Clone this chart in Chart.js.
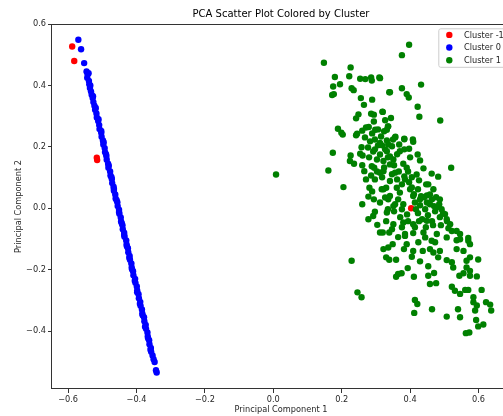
<!DOCTYPE html>
<html>
<head>
<meta charset="utf-8">
<script src="https://cdn.jsdelivr.net/npm/chart.js@4.4.0/dist/chart.umd.min.js"></script>
<style>
  html, body { margin: 0; padding: 0; background: #fff; overflow: hidden; }
  #wrap { width: 503px; height: 416px; overflow: hidden; }
</style>
</head>
<body>
<div id="wrap"><canvas id="plot" width="520" height="416"></canvas></div>
<script>
// axis ranges
const xRange = [-0.647, 0.692];
const yRange = [-0.589, 0.6005];
const tickStep = 0.2;

const clusterLabels = ['Cluster -1', 'Cluster 0', 'Cluster 1'];
const clusterColors = ['#ff0000', '#0000ff', '#008000'];

// Cluster -1 (noise)
const clusterNeg1 = [
    [-0.588, 0.527], [-0.582, 0.480], [-0.516, 0.165], [-0.515, 0.157], [0.403, 0.000]
];

// Cluster 0 - the thin diagonal band on the left
const cluster0 = [
    [-0.570, 0.549], [-0.562, 0.518], [-0.553, 0.473],
    [-0.546, 0.446], [-0.543, 0.436], [-0.544, 0.425], [-0.539, 0.415], [-0.538, 0.404], [-0.536, 0.392],
    [-0.533, 0.381], [-0.531, 0.370], [-0.528, 0.359], [-0.526, 0.346], [-0.523, 0.334], [-0.521, 0.321],
    [-0.517, 0.309], [-0.516, 0.296], [-0.512, 0.284], [-0.509, 0.271], [-0.508, 0.258], [-0.503, 0.246],
    [-0.502, 0.233], [-0.498, 0.221], [-0.497, 0.208], [-0.493, 0.196], [-0.492, 0.183], [-0.488, 0.170],
    [-0.487, 0.158], [-0.483, 0.145], [-0.482, 0.132], [-0.477, 0.120], [-0.476, 0.107], [-0.472, 0.095],
    [-0.471, 0.082], [-0.467, 0.070], [-0.466, 0.057], [-0.462, 0.045], [-0.461, 0.032], [-0.456, 0.020],
    [-0.455, 0.007], [-0.451, -0.005], [-0.450, -0.018], [-0.446, -0.030], [-0.445, -0.043], [-0.441, -0.055],
    [-0.440, -0.068], [-0.436, -0.080], [-0.435, -0.093], [-0.430, -0.105], [-0.429, -0.118], [-0.425, -0.130],
    [-0.424, -0.143], [-0.420, -0.155], [-0.419, -0.168], [-0.415, -0.180], [-0.414, -0.193], [-0.410, -0.205],
    [-0.409, -0.218], [-0.404, -0.230], [-0.403, -0.243], [-0.399, -0.255], [-0.398, -0.268], [-0.394, -0.280],
    [-0.393, -0.293], [-0.389, -0.305], [-0.388, -0.318], [-0.384, -0.330], [-0.383, -0.343], [-0.378, -0.355],
    [-0.377, -0.368], [-0.373, -0.380], [-0.372, -0.393], [-0.368, -0.405], [-0.367, -0.418], [-0.363, -0.430],
    [-0.362, -0.443], [-0.358, -0.455], [-0.357, -0.468], [-0.353, -0.480], [-0.350, -0.492], [-0.347, -0.501],
    [-0.343, -0.528], [-0.341, -0.535],
    [-0.540, 0.440], [-0.535, 0.400], [-0.527, 0.365], [-0.519, 0.327], [-0.511, 0.290], [-0.503, 0.252],
    [-0.496, 0.215], [-0.489, 0.176], [-0.481, 0.139], [-0.473, 0.101], [-0.466, 0.063], [-0.458, 0.026],
    [-0.451, -0.012], [-0.443, -0.049], [-0.436, -0.087], [-0.428, -0.124], [-0.421, -0.161], [-0.413, -0.199],
    [-0.405, -0.236], [-0.398, -0.274], [-0.390, -0.311], [-0.382, -0.349], [-0.375, -0.386], [-0.366, -0.424],
    [-0.359, -0.461]
];

// Cluster 1 - the wide cloud on the right
const cluster1 = [
    [0.008, 0.110],
    [0.148, 0.474], [0.226, 0.459], [0.180, 0.428], [0.222, 0.430], [0.254, 0.422], [0.269, 0.421],
    [0.286, 0.426], [0.288, 0.416], [0.310, 0.426], [0.195, 0.404], [0.175, 0.397], [0.229, 0.391],
    [0.235, 0.385], [0.172, 0.369], [0.177, 0.372], [0.256, 0.359], [0.289, 0.354], [0.265, 0.337],
    [0.339, 0.378], [0.249, 0.306], [0.242, 0.293], [0.286, 0.308], [0.294, 0.305], [0.319, 0.315],
    [0.294, 0.283], [0.327, 0.287], [0.189, 0.259], [0.199, 0.246], [0.245, 0.243], [0.260, 0.253],
    [0.279, 0.265], [0.298, 0.256], [0.335, 0.267],
    [0.397, 0.533], [0.376, 0.499], [0.312, 0.424], [0.341, 0.378], [0.376, 0.391], [0.390, 0.372],
    [0.396, 0.361], [0.432, 0.403], [0.422, 0.331], [0.427, 0.298], [0.488, 0.286], [0.320, 0.314],
    [0.344, 0.294], [0.336, 0.267], [0.332, 0.256], [0.324, 0.251], [0.357, 0.233], [0.383, 0.227],
    [0.408, 0.224],
    [0.174, 0.181], [0.161, 0.123], [0.205, 0.069], [0.226, 0.172], [0.224, 0.154], [0.236, 0.145],
    [0.258, 0.199], [0.254, 0.178], [0.261, 0.172], [0.266, 0.121], [0.281, 0.067], [0.278, 0.038],
    [0.312, 0.019], [0.297, -0.011], [0.292, -0.025], [0.278, -0.036], [0.304, -0.054], [0.320, -0.079],
    [0.332, -0.014], [0.317, 0.062], [0.330, 0.067], [0.288, 0.137], [0.295, 0.132], [0.322, 0.121],
    [0.203, 0.240], [0.242, 0.238],
    [0.268, 0.231], [0.283, 0.218], [0.277, 0.198], [0.297, 0.224], [0.306, 0.205], [0.292, 0.185],
    [0.312, 0.175], [0.327, 0.192], [0.335, 0.166], [0.303, 0.159], [0.280, 0.166], [0.341, 0.143],
    [0.318, 0.101],
    [0.356, 0.231], [0.383, 0.225], [0.409, 0.217], [0.397, 0.194], [0.422, 0.175], [0.429, 0.156],
    [0.439, 0.130], [0.520, 0.132], [0.463, 0.113], [0.482, 0.103], [0.453, 0.078], [0.468, 0.062],
    [0.487, 0.029], [0.485, 0.013], [0.492, -0.003], [0.502, -0.019], [0.507, -0.036], [0.517, -0.052],
    [0.512, -0.065], [0.522, -0.074], [0.536, -0.074], [0.546, -0.084], [0.570, -0.097], [0.312, -0.079],
    [0.339, -0.079], [0.385, -0.084], [0.409, -0.081], [0.439, -0.079], [0.478, -0.084], [0.351, -0.052],
    [0.380, -0.046], [0.409, -0.052], [0.449, -0.041], [0.335, -0.003], [0.351, 0.007], [0.380, 0.013],
    [0.327, 0.035], [0.341, 0.040], [0.370, 0.051], [0.409, 0.040], [0.322, 0.062], [0.361, 0.067],
    [0.400, 0.062], [0.341, 0.089], [0.385, 0.094], [0.419, 0.110], [0.312, 0.116], [0.356, 0.116],
    [0.390, 0.132], [0.322, 0.154], [0.351, 0.159], [0.380, 0.145], [0.332, 0.186], [0.370, 0.186],
    [0.312, 0.213], [0.336, 0.208],
    [0.414, 0.019], [0.429, 0.010], [0.444, -0.003], [0.458, 0.013], [0.423, -0.016], [0.452, -0.023],
    [0.473, -0.010], [0.435, -0.036], [0.464, -0.042], [0.487, -0.029], [0.417, -0.003], [0.441, 0.036],
    [0.458, 0.045], [0.423, 0.062],
    [0.271, 0.263], [0.289, 0.244], [0.306, 0.257], [0.315, 0.234], [0.332, 0.221], [0.347, 0.202],
    [0.362, 0.176], [0.353, 0.140], [0.367, 0.120], [0.383, 0.104], [0.397, 0.085], [0.405, 0.068],
    [0.426, 0.091], [0.447, 0.078], [0.432, 0.039], [0.449, 0.019], [0.470, 0.007], [0.476, 0.036],
    [0.467, -0.055], [0.490, -0.055], [0.365, 0.029], [0.353, -0.010], [0.371, -0.029], [0.391, -0.020],
    [0.376, -0.062], [0.297, 0.094], [0.289, 0.055],
    [0.303, 0.120], [0.324, 0.133], [0.347, 0.111], [0.362, 0.094], [0.376, 0.078], [0.394, 0.120],
    [0.405, 0.101], [0.411, 0.046], [0.429, 0.029], [0.449, 0.042], [0.464, 0.029], [0.478, 0.003],
    [0.496, -0.016], [0.508, -0.042], [0.426, -0.042], [0.446, -0.062], [0.336, 0.029], [0.356, 0.013],
    [0.376, -0.003], [0.394, -0.042], [0.414, -0.062], [0.330, -0.042], [0.347, -0.068], [0.365, -0.094],
    [0.297, 0.192], [0.318, 0.205], [0.350, 0.224], [0.368, 0.208], [0.383, 0.192], [0.400, 0.166],
    [0.341, 0.169], [0.286, 0.107], [0.260, 0.140], [0.271, 0.094], [0.294, 0.029], [0.260, 0.013],
    [0.229, -0.171], [0.246, -0.274], [0.258, -0.290], [0.322, -0.133], [0.336, -0.128], [0.349, -0.117],
    [0.330, -0.160], [0.339, -0.168], [0.359, -0.168], [0.393, -0.195], [0.390, -0.117], [0.382, -0.133],
    [0.409, -0.139], [0.405, -0.158], [0.429, -0.173], [0.437, -0.139], [0.453, -0.189], [0.458, -0.133],
    [0.468, -0.144], [0.482, -0.160], [0.487, -0.139], [0.507, -0.169], [0.522, -0.176], [0.526, -0.193],
    [0.536, -0.133], [0.556, -0.139], [0.565, -0.171], [0.575, -0.160], [0.599, -0.167], [0.365, -0.214],
    [0.359, -0.223], [0.375, -0.212], [0.411, -0.223], [0.453, -0.220], [0.470, -0.211], [0.458, -0.247],
    [0.476, -0.244], [0.544, -0.220], [0.556, -0.212], [0.565, -0.193], [0.575, -0.204], [0.575, -0.220],
    [0.595, -0.222], [0.522, -0.256], [0.531, -0.269], [0.546, -0.279], [0.561, -0.266], [0.570, -0.266],
    [0.609, -0.266], [0.585, -0.290], [0.585, -0.306], [0.595, -0.317], [0.590, -0.333], [0.622, -0.306],
    [0.634, -0.314], [0.637, -0.333], [0.414, -0.299], [0.421, -0.312], [0.412, -0.341], [0.464, -0.329],
    [0.507, -0.353], [0.540, -0.329], [0.546, -0.355], [0.593, -0.364], [0.599, -0.385], [0.614, -0.379],
    [0.563, -0.407], [0.573, -0.405],
    [0.385, -0.090], [0.424, -0.111], [0.444, -0.095], [0.463, -0.106], [0.473, -0.111], [0.507, -0.095],
    [0.536, -0.104], [0.546, -0.101], [0.570, -0.106], [0.575, -0.117]
];

const clusterData = [clusterNeg1, cluster0, cluster1];

function fmtTick(v) {
    return Number(v).toFixed(1).replace('-', '\u2212');
}

// box around the plot (all four spines)
const framePlugin = {
    id: 'frame',
    afterDatasetsDraw(chart) {
        const { ctx, chartArea: a } = chart;
        ctx.save();
        ctx.strokeStyle = '#333333';
        ctx.lineWidth = 1;
        ctx.strokeRect(Math.round(a.left) - 0.5, Math.round(a.top) + 0.5,
            Math.round(a.right - a.left), Math.round(a.bottom - a.top) - 1);
        ctx.restore();
    }
};

// legend drawn inside the plot, upper right
const boxLegend = {
    id: 'boxLegend',
    afterDraw(chart) {
        const { ctx, chartArea: a } = chart;
        const x0 = a.right - 71.7, y0 = a.top + 4.3;
        ctx.save();
        ctx.fillStyle = 'rgba(255,255,255,0.8)';
        ctx.strokeStyle = '#cccccc';
        ctx.lineWidth = 1;
        ctx.beginPath();
        ctx.roundRect(x0 + 0.5, y0 + 0.5, 67.5, 38.5, 2);
        ctx.fill();
        ctx.stroke();
        ctx.font = "8.2px 'DejaVu Sans'";
        ctx.textBaseline = 'middle';
        chart.data.datasets.forEach((ds, i) => {
            const cy = y0 + 6.6 + i * 12.65;
            ctx.fillStyle = ds.backgroundColor;
            ctx.beginPath();
            ctx.arc(x0 + 11, cy, 3.2, 0, Math.PI * 2);
            ctx.fill();
            ctx.fillStyle = '#262626';
            ctx.fillText(ds.label, x0 + 25.7, cy + 0.5);
        });
        ctx.restore();
    }
};

Chart.defaults.font.family = "'DejaVu Sans', sans-serif";

const plot = document.getElementById('plot').getContext('2d');
new Chart(plot, {
    type: 'scatter',
    data: {
        datasets: clusterData.map((pts, i) => ({
            label: clusterLabels[i],
            data: pts.map(p => ({ x: p[0], y: p[1] })),
            backgroundColor: clusterColors[i],
            borderWidth: 0,
            pointRadius: 3.2,
            pointHoverRadius: 3.2,
            order: 3 - i
        }))
    },
    options: {
        responsive: false,
        animation: false,
        layout: { padding: { left: 0, right: 10, top: 0, bottom: 0 } },
        plugins: {
            legend: { display: false },
            tooltip: { enabled: false },
            title: {
                display: true,
                fullSize: false,
                text: 'PCA Scatter Plot Colored by Cluster',
                color: '#000',
                font: { size: 10, weight: 'normal' },
                padding: { top: 8, bottom: 4 }
            }
        },
        scales: {
            x: {
                type: 'linear',
                min: xRange[0],
                max: xRange[1],
                afterFit(s) { s.height = 27; },
                border: { display: false },
                grid: { display: true, drawOnChartArea: false, drawTicks: true, tickLength: 4, color: '#333' },
                ticks: {
                    stepSize: tickStep, includeBounds: false, padding: 2, autoSkip: false, maxRotation: 0,
                    color: '#262626', font: { size: 8.2 }, callback: fmtTick
                },
                title: {
                    display: true, text: 'Principal Component 1', color: '#262626',
                    font: { size: 8.2 }, padding: { top: 0, bottom: 1.5 }
                }
            },
            y: {
                type: 'linear',
                min: yRange[0],
                max: yRange[1],
                afterFit(s) { s.width = 52; },
                border: { display: false },
                grid: { display: true, drawOnChartArea: false, drawTicks: true, tickLength: 4, color: '#333' },
                ticks: {
                    stepSize: tickStep, includeBounds: false, padding: 2, autoSkip: false,
                    color: '#262626', font: { size: 8.2 }, callback: fmtTick
                },
                title: {
                    display: true, text: 'Principal Component 2', color: '#262626',
                    font: { size: 8.2 }, padding: { top: 14, bottom: 0 }
                }
            }
        }
    },
    plugins: [framePlugin, boxLegend]
});
</script>
</body>
</html>
